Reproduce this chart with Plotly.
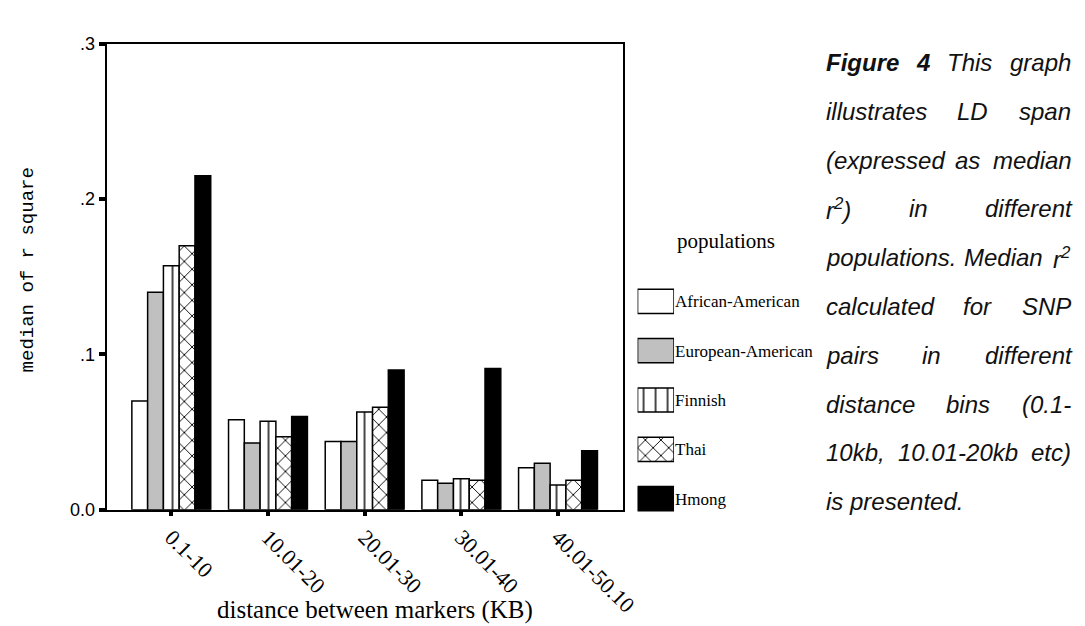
import plotly.graph_objects as go

# ---------------- data ----------------
categories = ["0.1-10", "10.01-20", "20.01-30", "30.01-40", "40.01-50.10"]
populations = ["African-American", "European-American", "Finnish", "Thai", "Hmong"]

african_american = [0.070, 0.058, 0.044, 0.019, 0.027]
european_american = [0.140, 0.043, 0.044, 0.017, 0.030]
finnish = [0.157, 0.057, 0.063, 0.020, 0.016]
thai = [0.170, 0.047, 0.066, 0.019, 0.019]
hmong = [0.215, 0.060, 0.090, 0.091, 0.038]

y_tick_values = [0.0, 0.1, 0.2, 0.3]
y_tick_labels = ["0.0", ".1", ".2", ".3"]

caption_lines = [
    "Figure 4 This graph",
    "illustrates LD span",
    "(expressed as median",
    "r²) in different",
    "populations. Median r²",
    "calculated for SNP",
    "pairs in different",
    "distance bins (0.1-",
    "10kb, 10.01-20kb etc)",
    "is presented.",
]
caption_bold_words = ["Figure", "4"]

# ---------------- styles ----------------
W, H = 1085, 626
series = [african_american, european_american, finnish, thai, hmong]
fills = ["white", "#c0c0c0", "white", "white", "black"]
shapes = ["", "", "|", "x", ""]
pat_size = [8, 8, 12, 11, 8]
pat_solid = [0.2, 0.2, 0.12, 0.16, 0.2]


def fx(px):
    return px / W


def fy(py):
    return 1 - py / H


fig = go.Figure()

for name, vals, col, shp, sz, so in zip(populations, series, fills, shapes, pat_size, pat_solid):
    pattern = dict(shape=shp, size=sz, solidity=so, fgcolor="black", bgcolor=col, fillmode="replace")
    fig.add_trace(go.Bar(
        name=name, x=categories, y=vals,
        marker=dict(color=col, line=dict(color="black", width=1.5), pattern=pattern),
        showlegend=False, xaxis="x", yaxis="y",
    ))

# legend swatches drawn as a small horizontal-bar subplot, one trace per population
for name, col, shp, sz, so in zip(populations, fills, shapes, pat_size, pat_solid):
    pattern = dict(shape=shp, size=sz, solidity=so, fgcolor="black", bgcolor=col, fillmode="replace")
    fig.add_trace(go.Bar(
        x=[1], y=[name], orientation="h", width=0.49,
        marker=dict(color=col, line=dict(color="black", width=1.5), pattern=pattern),
        showlegend=False, xaxis="x2", yaxis="y2", hoverinfo="skip",
    ))

fig.update_layout(
    width=W, height=H,
    margin=dict(l=0, r=0, t=0, b=0),
    paper_bgcolor="white", plot_bgcolor="white",
    barmode="group", bargap=0.184, bargroupgap=0,
    showlegend=False,
    xaxis=dict(domain=[fx(100), fx(624)], anchor="y",
               type="category", range=[-0.67, 4.67],
               showline=True, linecolor="black", linewidth=2, mirror=True,
               showgrid=False, zeroline=False,
               ticks="outside", ticklen=4, tickwidth=4, tickcolor="black",
               tickangle=45,
               tickfont=dict(family="Liberation Serif", size=22, color="black")),
    yaxis=dict(domain=[fy(508), fy(26.5)], anchor="x",
               range=[0, 0.3], tickvals=y_tick_values, ticktext=y_tick_labels,
               showline=True, linecolor="black", linewidth=2, mirror=True,
               showgrid=False, zeroline=False,
               ticks="outside", ticklen=6, tickwidth=4, tickcolor="black",
               tickfont=dict(family="Liberation Sans", size=18, color="black")),
    xaxis2=dict(domain=[fx(639), fx(676)], anchor="y2", range=[0, 1],
                visible=False, fixedrange=True),
    yaxis2=dict(domain=[fy(522), fy(267.2)], anchor="x2",
                type="category", categoryorder="array", categoryarray=populations,
                range=[4.5, -0.5], side="right",
                showline=False, showgrid=False, zeroline=False, ticks="",
                tickfont=dict(family="Liberation Serif", size=17, color="black")),
)

annotations = []
# axis titles
annotations.append(dict(text="median of r square", x=fx(20), y=fy(260), xref="paper", yref="paper",
                        textangle=-90, showarrow=False, xanchor="center", yanchor="middle",
                        font=dict(family="Liberation Mono", size=19, color="black")))
annotations.append(dict(text="distance between markers (KB)", x=fx(373), y=fy(612),
                        xref="paper", yref="paper", showarrow=False,
                        xanchor="center", yanchor="middle",
                        font=dict(family="Liberation Serif", size=25, color="black")))
annotations.append(dict(text="populations", x=fx(729), y=fy(230), xref="paper", yref="paper",
                        showarrow=False, xanchor="center", yanchor="middle",
                        font=dict(family="Liberation Serif", size=21, color="black")))

# caption: justified italic text (Liberation Sans is metric-compatible with Arial)
ARIAL = {' ': 278, '(': 333, ')': 333, ',': 278, '-': 333, '.': 278,
         'A': 667, 'D': 722, 'F': 611, 'L': 556, 'M': 833, 'N': 722, 'P': 667, 'S': 667, 'T': 611,
         'a': 556, 'b': 556, 'c': 500, 'd': 556, 'e': 556, 'f': 278, 'g': 556, 'h': 556,
         'i': 222, 'k': 500, 'l': 222, 'm': 833, 'n': 556, 'o': 556, 'p': 556, 'r': 333,
         's': 500, 't': 278, 'u': 556, 'x': 500, '²': 389}
for d in "0123456789":
    ARIAL[d] = 556
ARIAL_BOLD = {'F': 611, 'i': 278, 'g': 611, 'u': 611, 'r': 389, 'e': 556, '4': 556}

CAP_SIZE = 24
LEFT, RIGHT = 830, 1078
LINE0, LINE_STEP = 46, 50.4


def word_width(word, bold):
    tbl = ARIAL_BOLD if bold else ARIAL
    return sum(tbl.get(c, ARIAL.get(c, 556)) for c in word) * CAP_SIZE / 1000.0


for k, line in enumerate(caption_lines):
    words = line.split(" ")
    bolds = [(k == 0 and w in caption_bold_words) for w in words]
    widths = [word_width(w, b) for w, b in zip(words, bolds)]
    if k == len(caption_lines) - 1 or len(words) == 1:
        gap = ARIAL[' '] * CAP_SIZE / 1000.0
    else:
        gap = (RIGHT - LEFT - sum(widths)) / (len(words) - 1)
    xpos = LEFT
    yc = LINE0 + LINE_STEP * k
    for w, b, wd in zip(words, bolds, widths):
        html = w.replace("²", "<sup>2</sup>")
        html = "<i>" + html + "</i>"
        if b:
            html = "<b>" + html + "</b>"
        annotations.append(dict(text=html, x=fx(xpos - 2), y=fy(yc), xref="paper", yref="paper",
                                showarrow=False, xanchor="left", yanchor="middle",
                                font=dict(family="Liberation Sans", size=CAP_SIZE, color="#111111")))
        xpos += wd + gap

fig.update_layout(annotations=annotations)

fig.write_html("out.html")
